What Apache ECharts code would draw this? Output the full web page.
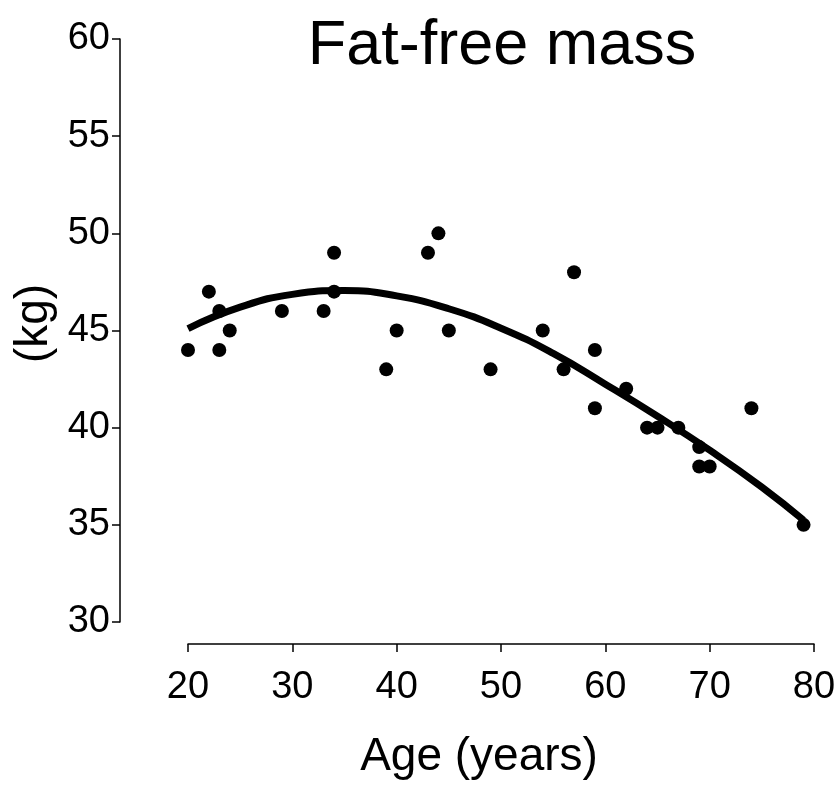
<!DOCTYPE html>
<html>
<head>
<meta charset="utf-8">
<script src="https://cdn.jsdelivr.net/npm/echarts@6/dist/echarts.min.js"></script>
<style>html,body{margin:0;padding:0;background:#fff}#c{width:840px;height:785px}</style>
</head>
<body>
<div id="c"></div>
<script>
var ages   = [20, 22, 23, 23, 24, 29, 33, 34, 34, 39, 40, 43, 44, 45, 49, 54, 56, 57, 59, 59, 62, 64, 65, 67, 69, 69, 70, 74, 79];
var masses = [44, 47, 46, 44, 45, 46, 46, 49, 47, 43, 45, 49, 50, 45, 43, 45, 43, 48, 44, 41, 42, 40, 40, 40, 39, 38, 38, 41, 35];
var fitAges   = [20, 25, 30, 35, 40, 45, 50, 55, 60, 65, 70, 75, 79];
var fitMasses = [45.1, 46.2, 46.86, 47.06, 46.78, 46.12, 45.12, 43.82, 42.24, 40.59, 38.84, 36.94, 35.24];
var xTicks = [20, 30, 40, 50, 60, 70, 80];
var yTicks = [30, 35, 40, 45, 50, 55, 60];

var font = "'Liberation Sans', Arial, Helvetica, sans-serif";
var chart = echarts.init(document.getElementById('c'), null, {renderer: 'canvas'});
chart.setOption({
  animation: false,
  backgroundColor: '#fff',
  title: {
    text: 'Fat-free mass',
    left: 497, top: 10, textAlign: 'center',
    textStyle: {fontFamily: font, fontSize: 63, fontWeight: 'normal', color: '#000'}
  },
  grid: {left: 188, right: 26, top: 39, bottom: 163},
  xAxis: {
    type: 'value', min: xTicks[0], max: xTicks[xTicks.length - 1], interval: 10,
    offset: 22,
    name: 'Age (years)', nameLocation: 'middle', nameGap: 90,
    nameTextStyle: {fontFamily: font, fontSize: 46, color: '#000', padding: [0, 44, 0, 0]},
    axisLine: {show: true, lineStyle: {color: '#000', width: 1.5}},
    axisTick: {show: true, length: 8, lineStyle: {color: '#000', width: 1.5}},
    axisLabel: {fontFamily: font, fontSize: 38, color: '#000', margin: 25},
    splitLine: {show: false}
  },
  yAxis: {
    type: 'value', min: yTicks[0], max: yTicks[yTicks.length - 1], interval: 5,
    offset: 68,
    name: '(kg)', nameLocation: 'middle', nameGap: 62, nameRotate: 90,
    nameTextStyle: {fontFamily: font, fontSize: 46, color: '#000', padding: [0, 0, 0, 14]},
    axisLine: {show: true, lineStyle: {color: '#000', width: 1.5}},
    axisTick: {show: true, length: 8, lineStyle: {color: '#000', width: 1.5}},
    axisLabel: {fontFamily: font, fontSize: 38, color: '#000', margin: 10},
    splitLine: {show: false}
  },
  series: [
    {
      type: 'scatter',
      data: ages.map(function (a, i) { return [a, masses[i]]; }),
      symbol: 'circle', symbolSize: 14,
      itemStyle: {color: '#000', opacity: 1},
      z: 2
    },
    {
      type: 'line',
      data: fitAges.map(function (a, i) { return [a, fitMasses[i]]; }),
      smooth: 0.5, showSymbol: false, symbol: 'none',
      lineStyle: {color: '#000', width: 7, cap: 'butt'},
      z: 3
    }
  ]
});
</script>
</body>
</html>
